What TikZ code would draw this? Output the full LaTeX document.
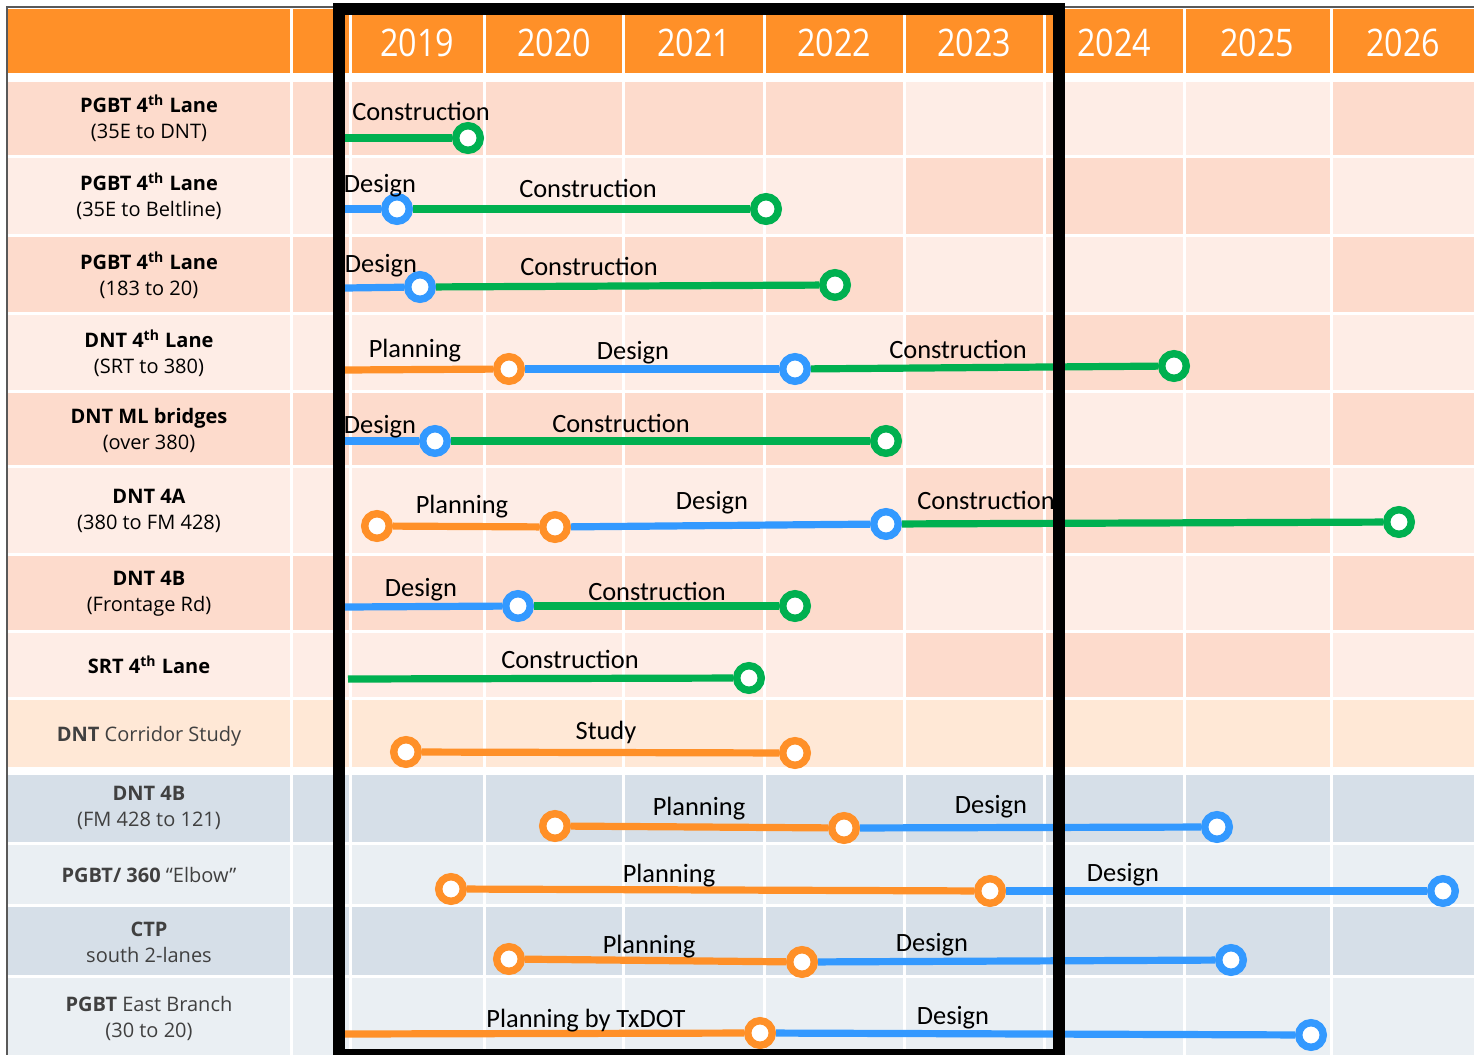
\documentclass[tikz,border=0pt]{standalone}
\usepackage{fontspec}
\setmainfont{Open Sans}
\newfontfamily\barfont{Carlito}
\newfontfamily\yearfont[FakeStretch=0.85]{Open Sans}
\definecolor{morange}{HTML}{FF9028}
\definecolor{mblue}{HTML}{3399FF}
\definecolor{mgreen}{HTML}{00B050}
\definecolor{mpeach}{HTML}{FDDBCC}
\definecolor{mpeachl}{HTML}{FEEDE6}
\definecolor{mcream}{HTML}{FFE8D6}
\definecolor{mslate}{HTML}{D6DFE8}
\definecolor{mslatel}{HTML}{EAEFF3}
\definecolor{mtext}{HTML}{404040}
\tikzstyle{stone} = [circle, fill = white, line width = 3.7pt, minimum size = 12.3pt, inner sep = 0pt]
\tikzstyle{pmark} = [stone, draw = morange]
\tikzstyle{dmark} = [stone, draw = mblue]
\tikzstyle{cmark} = [stone, draw = mgreen]
\tikzstyle{pbar} = [line width = 3.6pt, morange]
\tikzstyle{dbar} = [line width = 3.6pt, mblue]
\tikzstyle{cbar} = [line width = 3.6pt, mgreen]
\tikzstyle{phase} = [font = \barfont\fontsize{13.2}{15}\selectfont, anchor = base, inner sep = 0pt]
\tikzstyle{project} = [font = \fontsize{10}{13}\selectfont, align = center, inner sep = 0pt]
\tikzstyle{year} = [font = \yearfont\fontsize{19}{20}\selectfont, text = white]

\begin{document}
\begin{tikzpicture}[x = 0.5pt, y = -0.5pt]
  \clip (0,0) rectangle (1474,1055);
  \fill[white] (0,0) rectangle (1474,1055);
  % grid
  \fill[morange] (8,9) rectangle (1474,73);
  \foreach \t/\b/\c in {82/155/mpeach, 158/234/mpeachl, 237/312/mpeach, 315/390/mpeachl, 393/465/mpeach, 468/553/mpeachl, 556/630/mpeach, 633/697/mpeachl, 700/767/mcream, 775/842/mslate, 845/904/mslatel, 907/975/mslate, 978/1055/mslatel}
    \fill[\c] (8,\t) rectangle (1474,\b);
  \foreach \t/\b/\c in {82/155/mpeachl, 158/234/mpeach, 237/312/mpeachl, 315/390/mpeach, 393/465/mpeachl, 468/553/mpeach, 556/630/mpeachl, 633/697/mpeach}
    \fill[\c] (904.5,\t) rectangle (1331,\b);
  \foreach \x in {291.5, 350, 484.5, 623.5, 764.5, 904.5, 1044, 1184.5, 1331}
    \draw[white, line width = 1.5pt] (\x,9) -- (\x,1055);
  \draw[black!65, line width = 0.8pt] (7,1055) -- (7,7) -- (1474,7);
  \node (y2019) [year] at (417,43) {2019};
  \node (y2020) [year] at (554,43) {2020};
  \node (y2021) [year] at (694,43) {2021};
  \node (y2022) [year] at (834,43) {2022};
  \node (y2023) [year] at (974,43) {2023};
  \node (y2024) [year] at (1114,43) {2024};
  \node (y2025) [year] at (1257,43) {2025};
  \node (y2026) [year] at (1403,43) {2026};
  % projects
  \node (pgbt1) [project] at (149,118) {\textbf{PGBT 4\textsuperscript{th} Lane}\\(35E to DNT)};
  \node (pgbt2) [project] at (149,196) {\textbf{PGBT 4\textsuperscript{th} Lane}\\(35E to Beltline)};
  \node (pgbt3) [project] at (149,275) {\textbf{PGBT 4\textsuperscript{th} Lane}\\(183 to 20)};
  \node (dnt4) [project] at (149,353) {\textbf{DNT 4\textsuperscript{th} Lane}\\(SRT to 380)};
  \node (dntml) [project] at (149,430) {\textbf{DNT ML bridges}\\(over 380)};
  \node (dnt4a) [project] at (149,511) {\textbf{DNT 4A}\\(380 to FM 428)};
  \node (dnt4b) [project] at (149,594) {\textbf{DNT 4B}\\(Frontage Rd)};
  \node (srt4) [project] at (149,665) {\textbf{SRT 4\textsuperscript{th} Lane}};
  \node (dntcs) [project, text = mtext] at (149,736) {\textbf{DNT} Corridor Study};
  \node (dnt4bb) [project, text = mtext] at (149,808) {\textbf{DNT 4B}\\(FM 428 to 121)};
  \node (elbow) [project, text = mtext] at (149,875) {\textbf{PGBT/ 360} “Elbow”};
  \node (ctp) [project, text = mtext] at (149,942) {\textbf{CTP}\\south 2-lanes};
  \node (pgbte) [project, text = mtext] at (149,1018) {\textbf{PGBT} East Branch\\(30 to 20)};
  % PGBT 4th Lane (35E to DNT)
  \coordinate (a0) at (345,138);
  \node (a1) [cmark] at (468,138) {};
  \draw [cbar] (a0) -- (a1);
  \node [phase] at (421,120) {Construction};
  % PGBT 4th Lane (35E to Beltline)
  \coordinate (b0) at (345,209);
  \node (b1) [dmark] at (397,209) {};
  \node (b2) [cmark] at (766,209) {};
  \draw [dbar] (b0) -- (b1);
  \draw [cbar] (b1) -- (b2);
  \node [phase] at (380,192) {Design};
  \node [phase] at (588,197) {Construction};
  % PGBT 4th Lane (183 to 20)
  \coordinate (c0) at (345,288);
  \node (c1) [dmark] at (420,287) {};
  \node (c2) [cmark] at (835,285) {};
  \draw [dbar] (c0) -- (c1);
  \draw [cbar] (c1) -- (c2);
  \node [phase] at (381,272) {Design};
  \node [phase] at (589,275) {Construction};
  % DNT 4th Lane
  \coordinate (d0) at (345,370);
  \node (d1) [pmark] at (509,369) {};
  \node (d2) [dmark] at (795,369) {};
  \node (d3) [cmark] at (1174,366) {};
  \draw [pbar] (d0) -- (d1);
  \draw [dbar] (d1) -- (d2);
  \draw [cbar] (d2) -- (d3);
  \node [phase] at (415,357) {Planning};
  \node [phase] at (633,359) {Design};
  \node [phase] at (958,358) {Construction};
  % DNT ML bridges
  \coordinate (e0) at (345,441);
  \node (e1) [dmark] at (435,441) {};
  \node (e2) [cmark] at (886,441) {};
  \draw [dbar] (e0) -- (e1);
  \draw [cbar] (e1) -- (e2);
  \node [phase] at (380,433) {Design};
  \node [phase] at (621,432) {Construction};
  % DNT 4A
  \node (f1) [pmark] at (377,526) {};
  \node (f2) [pmark] at (555,527) {};
  \node (f3) [dmark] at (886,524) {};
  \node (f4) [cmark] at (1399,522) {};
  \draw [pbar] (f1) -- (f2);
  \draw [dbar] (f2) -- (f3);
  \draw [cbar] (f3) -- (f4);
  \node [phase] at (462,513) {Planning};
  \node [phase] at (712,509) {Design};
  \node [phase] at (986,509) {Construction};
  % DNT 4B (Frontage Rd)
  \coordinate (g0) at (345,607);
  \node (g1) [dmark] at (518,606) {};
  \node (g2) [cmark] at (795,606) {};
  \draw [dbar] (g0) -- (g1);
  \draw [cbar] (g1) -- (g2);
  \node [phase] at (421,596) {Design};
  \node [phase] at (657,600) {Construction};
  % SRT 4th Lane
  \coordinate (h0) at (348,679);
  \node (h1) [cmark] at (749,678) {};
  \draw [cbar] (h0) -- (h1);
  \node [phase] at (570,668) {Construction};
  % DNT Corridor Study
  \node (i1) [pmark] at (406,752) {};
  \node (i2) [pmark] at (795,753) {};
  \draw [pbar] (i1) -- (i2);
  \node [phase] at (606,739) {Study};
  % DNT 4B (FM 428 to 121)
  \node (j1) [pmark] at (555,826) {};
  \node (j2) [pmark] at (844,828) {};
  \node (j3) [dmark] at (1217,827) {};
  \draw [pbar] (j1) -- (j2);
  \draw [dbar] (j2) -- (j3);
  \node [phase] at (699,815) {Planning};
  \node [phase] at (991,813) {Design};
  % PGBT/360 Elbow
  \node (k1) [pmark] at (451,889) {};
  \node (k2) [pmark] at (990,891) {};
  \node (k3) [dmark] at (1443,891) {};
  \draw [pbar] (k1) -- (k2);
  \draw [dbar] (k2) -- (k3);
  \node [phase] at (669,882) {Planning};
  \node [phase] at (1123,881) {Design};
  % CTP south 2-lanes
  \node (l1) [pmark] at (509,959) {};
  \node (l2) [pmark] at (802,962) {};
  \node (l3) [dmark] at (1231,960) {};
  \draw [pbar] (l1) -- (l2);
  \draw [dbar] (l2) -- (l3);
  \node [phase] at (649,953) {Planning};
  \node [phase] at (932,951) {Design};
  % PGBT East Branch
  \coordinate (m0) at (345,1034);
  \node (m1) [pmark] at (760,1033) {};
  \node (m2) [dmark] at (1311,1035) {};
  \draw [pbar] (m0) -- (m1);
  \draw [dbar] (m1) -- (m2);
  \node [phase] at (586,1027) {Planning by TxDOT};
  \node [phase] at (953,1024) {Design};
  % window
  \draw [black, line width = 6pt] (339,9) rectangle (1058.5,1055);
\end{tikzpicture}
\end{document}
